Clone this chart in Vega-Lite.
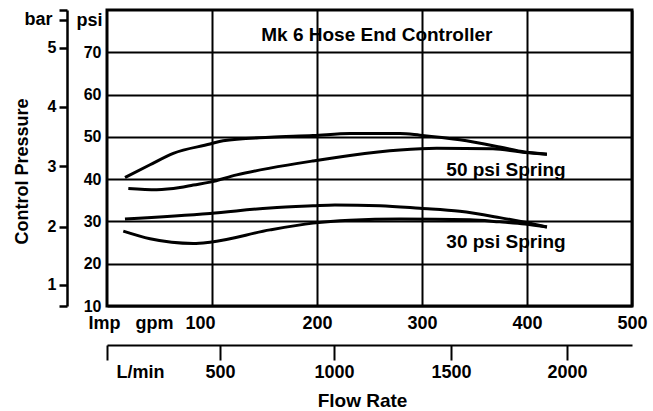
{
  "$schema": "https://vega.github.io/schema/vega-lite/v6.json",
  "width": 525,
  "height": 296,
  "autosize": {"type": "none"},
  "padding": {"left": 107, "top": 10, "right": 21, "bottom": 105},
  "background": "white",
  "config": {
    "view": {"stroke": "black", "strokeWidth": 3},
    "axis": {
      "labelFont": "Liberation Sans",
      "labelFontWeight": "bold",
      "labelFontSize": 17,
      "labelColor": "black",
      "titleFont": "Liberation Sans",
      "titleFontWeight": "bold",
      "titleFontSize": 18,
      "titleColor": "black",
      "gridColor": "black",
      "gridWidth": 2,
      "gridOpacity": 1,
      "domainColor": "black",
      "tickColor": "black"
    }
  },
  "layer": [
    {
      "data": {
        "values": [
          {"series": "50a", "gpm": 17.1, "psi": 40.4},
          {"series": "50a", "gpm": 41, "psi": 43.4},
          {"series": "50a", "gpm": 63.1, "psi": 46.1},
          {"series": "50a", "gpm": 98.1, "psi": 48.3},
          {"series": "50a", "gpm": 110.5, "psi": 49.1},
          {"series": "50a", "gpm": 155.2, "psi": 49.9},
          {"series": "50a", "gpm": 196.2, "psi": 50.3},
          {"series": "50a", "gpm": 231.4, "psi": 50.8},
          {"series": "50a", "gpm": 279, "psi": 50.8},
          {"series": "50a", "gpm": 298, "psi": 50.4},
          {"series": "50a", "gpm": 336, "psi": 49.3},
          {"series": "50a", "gpm": 374, "psi": 47.6},
          {"series": "50a", "gpm": 398, "psi": 46.4},
          {"series": "50a", "gpm": 419, "psi": 45.9},
          {"series": "50b", "gpm": 20.3, "psi": 37.8},
          {"series": "50b", "gpm": 47.3, "psi": 37.5},
          {"series": "50b", "gpm": 69.5, "psi": 38.0},
          {"series": "50b", "gpm": 82.2, "psi": 38.6},
          {"series": "50b", "gpm": 98.1, "psi": 39.3},
          {"series": "50b", "gpm": 123.5, "psi": 41.0},
          {"series": "50b", "gpm": 155.2, "psi": 42.6},
          {"series": "50b", "gpm": 196.2, "psi": 44.3},
          {"series": "50b", "gpm": 231.4, "psi": 45.6},
          {"series": "50b", "gpm": 279, "psi": 46.9},
          {"series": "50b", "gpm": 314, "psi": 47.3},
          {"series": "50b", "gpm": 367.6, "psi": 47.2},
          {"series": "50b", "gpm": 398, "psi": 46.3},
          {"series": "50b", "gpm": 419, "psi": 45.9},
          {"series": "30a", "gpm": 17.1, "psi": 30.6},
          {"series": "30a", "gpm": 98.1, "psi": 31.9},
          {"series": "30a", "gpm": 155.2, "psi": 33.2},
          {"series": "30a", "gpm": 196.2, "psi": 33.7},
          {"series": "30a", "gpm": 217, "psi": 33.9},
          {"series": "30a", "gpm": 260, "psi": 33.7},
          {"series": "30a", "gpm": 298, "psi": 33.1},
          {"series": "30a", "gpm": 336, "psi": 32.4},
          {"series": "30a", "gpm": 374, "psi": 30.9},
          {"series": "30a", "gpm": 398, "psi": 29.8},
          {"series": "30a", "gpm": 419, "psi": 28.7},
          {"series": "30b", "gpm": 15.5, "psi": 27.7},
          {"series": "30b", "gpm": 41, "psi": 25.9},
          {"series": "30b", "gpm": 82.2, "psi": 24.8},
          {"series": "30b", "gpm": 98.1, "psi": 25.1},
          {"series": "30b", "gpm": 155.2, "psi": 28.0},
          {"series": "30b", "gpm": 196.2, "psi": 29.6},
          {"series": "30b", "gpm": 231.4, "psi": 30.3},
          {"series": "30b", "gpm": 279, "psi": 30.6},
          {"series": "30b", "gpm": 345.7, "psi": 30.4},
          {"series": "30b", "gpm": 374, "psi": 29.9},
          {"series": "30b", "gpm": 398, "psi": 29.4},
          {"series": "30b", "gpm": 419, "psi": 28.7}
        ]
      },
      "mark": {"type": "line", "strokeWidth": 3, "interpolate": "monotone", "color": "black"},
      "encoding": {
        "x": {
          "field": "gpm",
          "type": "quantitative",
          "scale": {"domain": [0, 500], "nice": false, "zero": false},
          "axis": {
            "orient": "bottom",
            "values": [100, 200, 300, 400, 500],
            "domain": false,
            "ticks": false,
            "grid": true,
            "labelFontSize": 18,
            "labelPadding": 8,
            "labelFlush": false,
            "labelOverlap": false,
            "labelAlign": {"condition": {"test": "datum.value == 100", "value": "right"}, "value": "center"},
            "labelOffset": {"condition": {"test": "datum.value == 100", "value": 3}, "value": 0},
            "title": "Imp\u00a0\u00a0\u00a0gpm",
            "titleX": -19,
            "titleY": 17,
            "titleAlign": "left",
            "titleAngle": 0,
            "titleBaseline": "middle"
          }
        },
        "y": {
          "field": "psi",
          "type": "quantitative",
          "scale": {"domain": [10, 80], "nice": false, "zero": false},
          "axis": {
            "orient": "left",
            "values": [10, 20, 30, 40, 50, 60, 70],
            "domain": false,
            "ticks": false,
            "grid": true,
            "labelFontSize": 16,
            "labelPadding": 6,
            "labelFlush": false,
            "labelOverlap": false,
            "title": "psi",
            "titleX": -5,
            "titleY": 10,
            "titleAlign": "right",
            "titleAngle": 0,
            "titleBaseline": "middle"
          }
        },
        "detail": {"field": "series", "type": "nominal"}
      }
    },
    {
      "data": {
        "values": [
          {"gpm": 257, "psi": 74.1, "label": "Mk 6 Hose End Controller"},
          {"gpm": 380, "psi": 42.2, "label": "50 psi Spring"},
          {"gpm": 380, "psi": 25.2, "label": "30 psi Spring"}
        ]
      },
      "mark": {"type": "text", "font": "Liberation Sans", "fontWeight": "bold", "fontSize": 19, "color": "black", "align": "center", "baseline": "middle"},
      "encoding": {
        "x": {
          "field": "gpm",
          "type": "quantitative",
          "scale": {"domain": [0, 500], "nice": false, "zero": false},
          "axis": {
            "orient": "bottom",
            "offset": 39,
            "values": [0, 107.6, 216.2, 327.6, 438.1],
            "grid": false,
            "domain": true,
            "domainWidth": 2,
            "ticks": true,
            "tickSize": 15,
            "tickWidth": 2,
            "labelFontSize": 18,
            "labelPadding": 3,
            "labelFlush": false,
            "labelOverlap": false,
            "labelExpr": "datum.value < 1 ? 'L/min' : datum.value < 150 ? '500' : datum.value < 250 ? '1000' : datum.value < 350 ? '1500' : '2000'",
            "labelAlign": {"condition": {"test": "datum.value < 1", "value": "left"}, "value": "center"},
            "labelOffset": {"condition": {"test": "datum.value < 1", "value": 9}, "value": 0},
            "title": "Flow Rate",
            "titleFontSize": 19,
            "titleX": 255,
            "titleY": 55,
            "titleBaseline": "middle",
            "titleAlign": "center",
            "encode": {
              "ticks": {
                "update": {
                  "y": {"signal": "datum.value < 1 ? 0 : -37"},
                  "strokeDash": {"signal": "datum.value < 1 ? [] : [8, 5]"}
                }
              }
            }
          }
        },
        "y": {
          "field": "psi",
          "type": "quantitative",
          "scale": {"domain": [10, 80], "nice": false, "zero": false},
          "axis": {
            "orient": "left",
            "offset": 40,
            "values": [10, 15, 28.8, 43.1, 57.1, 71.1, 77.7, 80],
            "grid": false,
            "domain": true,
            "domainWidth": 2.5,
            "ticks": true,
            "tickSize": 8,
            "tickWidth": 2.5,
            "labelFontSize": {"condition": {"test": "datum.value > 75", "value": 18}, "value": 16},
            "labelPadding": {"condition": {"test": "datum.value > 75", "value": 7}, "value": 3},
            "labelFlush": false,
            "labelOverlap": false,
            "labelExpr": "datum.value < 12 ? '' : datum.value < 20 ? '1' : datum.value < 35 ? '2' : datum.value < 50 ? '3' : datum.value < 65 ? '4' : datum.value < 75 ? '5' : datum.value < 79 ? 'bar' : ''",
            "title": "Control Pressure",
            "titleX": -45,
            "titleY": 161,
            "titleAngle": 270,
            "titleAlign": "center",
            "titleBaseline": "middle",
            "encode": {
              "ticks": {
                "update": {
                  "x": {"signal": "datum.value < 12 ? 6 : 0"},
                  "x2": {"signal": "datum.value < 12 ? -12 : datum.value > 79 ? -5 : datum.value > 75 ? 0 : -8"}
                }
              }
            }
          }
        },
        "text": {"field": "label", "type": "nominal"}
      }
    }
  ],
  "resolve": {"axis": {"x": "independent", "y": "independent"}}
}
